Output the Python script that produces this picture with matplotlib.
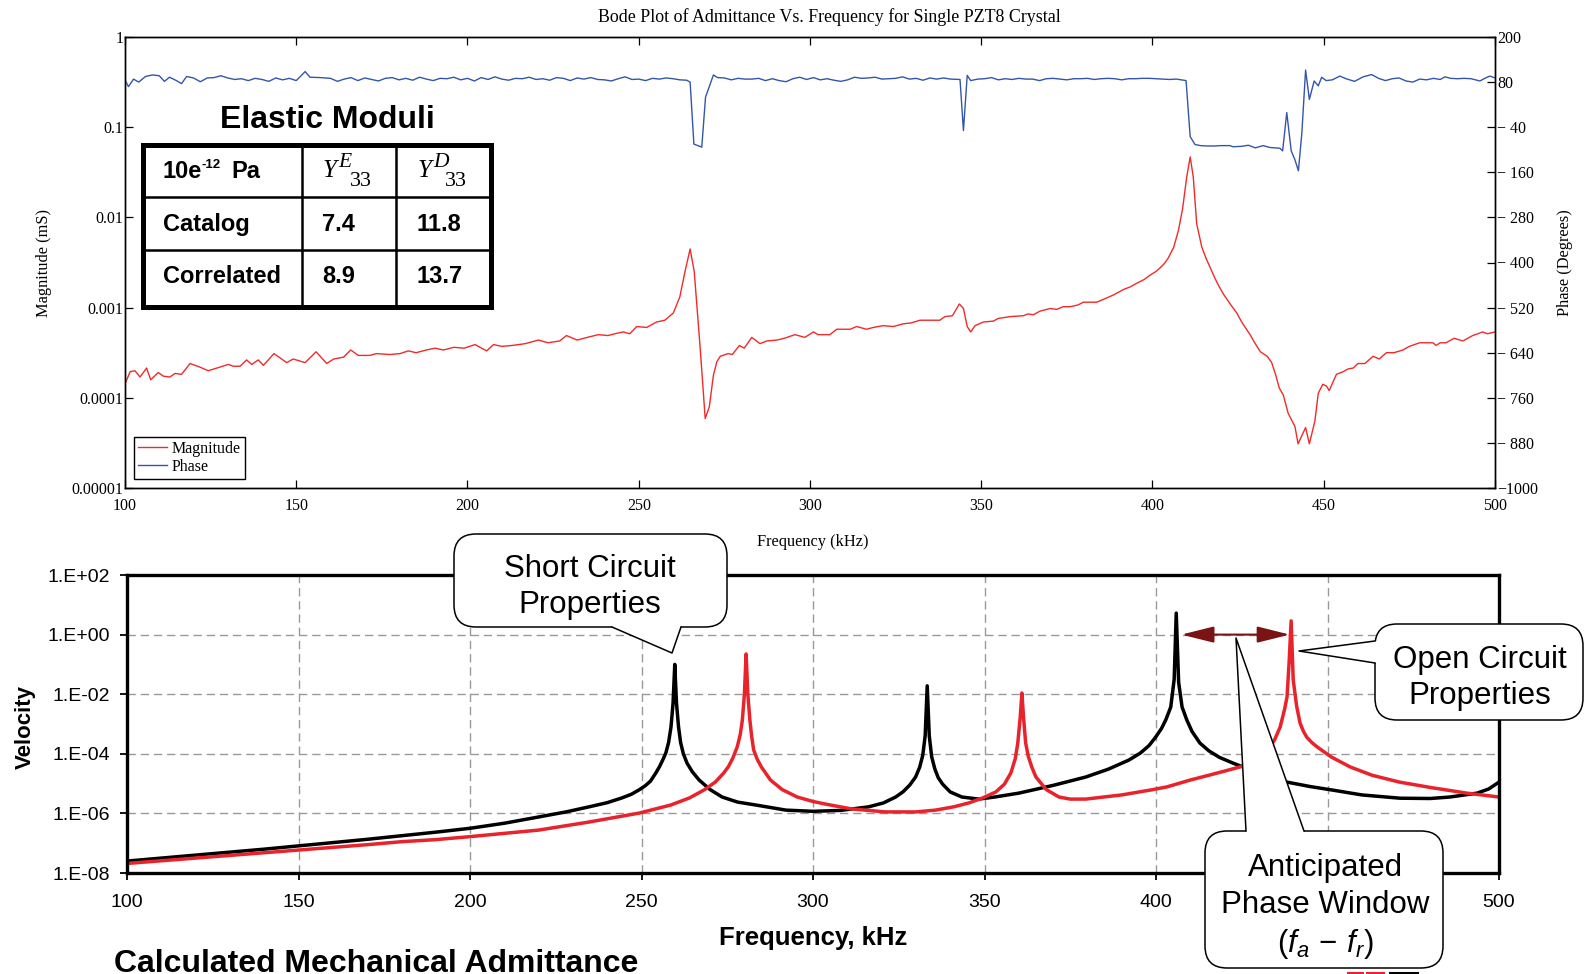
import matplotlib.pyplot as plt
import numpy as np
from matplotlib.patches import FancyBboxPatch, Polygon, Rectangle, FancyArrowPatch
from matplotlib.lines import Line2D
from matplotlib.ticker import NullLocator
from matplotlib.transforms import Affine2D

W, H = 1585, 974
SERIF = "Liberation Serif"
SANS = "Liberation Sans"
RED = "#f22a2a"
BLUE = "#3355aa"
BRED = "#e8232b"

plt.rcParams["font.family"] = [SERIF, "DejaVu Serif"]
plt.rcParams["mathtext.fontset"] = "custom"
plt.rcParams["mathtext.rm"] = SANS
plt.rcParams["mathtext.it"] = SANS + ":italic"

# ---- top panel: measured admittance (kHz, log10 of magnitude in mS) ----
mag_freq = [100.3, 101.5, 102.9, 104.4, 106.3, 107.5, 109.7, 111.2, 113.1, 114.6,
            116.5, 119, 121.9, 124.3, 127.7, 130.2, 131.6, 133.6, 135.5, 137,
            138.9, 140.4, 143.5, 147.2, 149.1, 152.6, 155.8, 158.9, 160.9, 163.8,
            165.9, 168.1, 171.5, 173.4, 177.3, 180.3, 182.7, 185, 188, 190.5,
            193, 196, 199, 202.2, 205.6, 207.6, 210, 213, 216.8, 220.7,
            223.5, 226.9, 228.9, 232, 235, 238.2, 241, 243, 245.5, 247.4,
            249.4, 252.3, 255.2, 257.6, 260.1, 262, 263.5, 265, 266.2, 267.9,
            269.4, 270.6, 271.8, 272.8, 273.8, 276.1, 277.3, 279.4, 280.8, 283,
            285.4, 287.4, 290.3, 292.5, 295.6, 298.5, 301, 302.4, 305.8, 307.8,
            311.7, 313.6, 316.5, 318.5, 321.4, 324.3, 327.2, 329.5, 332.1, 336,
            337.9, 339.4, 341.6, 343.6, 344.8, 345.9, 346.9, 348.2, 350.6, 353.5,
            355, 358.4, 362.3, 363.7, 365.2, 367.1, 370.1, 372, 373.9, 376,
            378.3, 379.8, 381.5, 383.7, 386.2, 388.6, 391.5, 393.5, 395.4, 397.5,
            399.3, 401, 402.2, 403.5, 404.6, 406.2, 407.6, 408.8, 410, 411,
            411.9, 412.9, 414.4, 415.6, 417, 418.3, 419.5, 420.7, 422.5, 424.6,
            426.2, 428.5, 430, 431.5, 433.5, 434.8, 436, 437, 438.2, 439.6,
            441.6, 442.5, 444.7, 445.8, 447.4, 448.4, 449.7, 450.8, 451.6, 453.7,
            455.7, 457.1, 458.6, 460, 462, 464.4, 466.2, 468.3, 470.5, 473.1,
            475, 478, 481.9, 482.8, 484, 485.7, 488.1, 490.6, 493.5, 496.4,
            497.8, 500]
mag_exp = [-3.82, -3.71, -3.70, -3.77, -3.67, -3.80, -3.72, -3.76, -3.77, -3.73,
           -3.74, -3.62, -3.66, -3.70, -3.66, -3.63, -3.65, -3.65, -3.58, -3.63,
           -3.58, -3.64, -3.51, -3.61, -3.57, -3.61, -3.49, -3.62, -3.57, -3.55,
           -3.47, -3.53, -3.53, -3.51, -3.52, -3.51, -3.48, -3.50, -3.47, -3.45,
           -3.47, -3.44, -3.45, -3.41, -3.48, -3.41, -3.43, -3.42, -3.40, -3.36,
           -3.39, -3.37, -3.31, -3.36, -3.33, -3.30, -3.31, -3.29, -3.27, -3.29,
           -3.21, -3.22, -3.16, -3.14, -3.06, -2.88, -2.60, -2.35, -2.60, -3.43,
           -4.23, -4.10, -3.75, -3.60, -3.54, -3.51, -3.52, -3.42, -3.45, -3.33,
           -3.40, -3.37, -3.36, -3.34, -3.30, -3.33, -3.27, -3.30, -3.30, -3.24,
           -3.24, -3.21, -3.24, -3.22, -3.20, -3.21, -3.18, -3.17, -3.14, -3.14,
           -3.14, -3.10, -3.09, -2.96, -3.01, -3.21, -3.27, -3.20, -3.16, -3.15,
           -3.12, -3.10, -3.09, -3.07, -3.08, -3.04, -3.01, -3.02, -2.99, -2.99,
           -2.97, -2.94, -2.94, -2.94, -2.90, -2.86, -2.80, -2.77, -2.73, -2.69,
           -2.64, -2.60, -2.56, -2.51, -2.45, -2.33, -2.14, -1.90, -1.55, -1.33,
           -1.55, -2.07, -2.33, -2.45, -2.57, -2.68, -2.77, -2.85, -2.95, -3.06,
           -3.17, -3.30, -3.40, -3.49, -3.54, -3.61, -3.75, -3.89, -3.97, -4.17,
           -4.32, -4.51, -4.33, -4.51, -4.26, -3.95, -3.85, -3.87, -3.92, -3.74,
           -3.71, -3.68, -3.67, -3.62, -3.62, -3.54, -3.57, -3.50, -3.50, -3.47,
           -3.43, -3.39, -3.39, -3.42, -3.39, -3.39, -3.34, -3.37, -3.31, -3.27,
           -3.29, -3.27]

phase_freq = [100, 101, 102.5, 104, 106, 108, 110, 111.5, 113, 115,
              116.5, 118, 120, 122, 124, 126, 128, 130, 132, 134,
              136, 138, 140, 142, 144, 146, 148, 150, 152.6, 154,
              157, 160, 162, 164, 166, 168, 170, 172, 174, 176,
              178, 180, 182, 184, 186, 188, 190, 192, 194, 196,
              198, 200, 202, 204, 206, 208, 210, 212, 214, 216,
              218, 220, 222, 224, 226, 228, 230, 232, 234, 236,
              238, 240, 242, 244, 246, 248, 250, 252, 254, 256,
              258, 260, 262, 264, 265, 266.1, 268.4, 269.5, 271.8, 273,
              275, 277, 279, 281, 283, 285, 287, 289, 291, 293,
              295, 297, 299, 301, 303, 305, 307, 309, 311, 313,
              315, 317, 319, 321, 323, 325, 327, 329, 331, 333,
              335, 337, 339, 341, 343.8, 344.8, 345.9, 346.9, 349, 351,
              353, 355, 357, 359, 361, 363, 365, 367, 369, 371,
              373, 375, 377, 379, 381, 383, 385, 387, 389, 391,
              393, 395, 397, 399, 401, 403, 405, 407, 409.8, 411,
              412.4, 414, 416, 418, 420, 422.6, 423.5, 425.9, 428, 430,
              432.3, 434.3, 437.2, 438, 439.2, 440.5, 441.6, 442.6, 443.6, 444.7,
              445.8, 447.2, 448.4, 449.4, 450.7, 452.5, 454.7, 456.5, 459, 461.5,
              464, 466, 468, 470, 472, 474, 476, 478, 480, 482,
              484, 485.4, 487, 489, 491, 493, 495.6, 497, 498.5, 500]
phase_deg = [86, 68, 88, 80, 95, 99, 97, 82, 93, 84,
             76, 95, 91, 81, 91, 92, 97, 91, 87, 89,
             84, 90, 87, 82, 91, 86, 90, 84, 108, 93,
             92, 90, 82, 88, 92, 84, 91, 87, 83, 90,
             92, 86, 90, 85, 93, 88, 84, 90, 89, 93,
             86, 90, 83, 92, 87, 94, 88, 85, 90, 89,
             93, 87, 89, 85, 92, 90, 84, 91, 88, 92,
             87, 86, 83, 89, 94, 87, 88, 84, 90, 88,
             91, 89, 86, 85, 80, -85, -93, 40, 99, 92,
             91, 86, 90, 88, 88, 90, 84, 89, 84, 81,
             89, 93, 87, 92, 86, 89, 85, 82, 86, 93,
             90, 91, 93, 88, 89, 90, 94, 88, 90, 85,
             91, 88, 91, 88, 87, -49, 98, 84, 88, 89,
             92, 86, 89, 87, 90, 88, 88, 84, 89, 90,
             88, 86, 89, 89, 90, 87, 89, 90, 89, 86,
             89, 89, 90, 90, 89, 88, 87, 88, 84, -65,
             -86, -89, -90, -90, -89, -89, -92, -91, -88, -95,
             -89, -94, -96, -103, -1, -103, -127, -156, -56, 112,
             34, 83, 70, 93, 84, 86, 96, 89, 82, 94,
             100, 90, 84, 89, 91, 83, 80, 88, 86, 90,
             87, 94, 90, 89, 90, 89, 83, 90, 96, 91]

mag_ticks = [1e-5, 1e-4, 1e-3, 1e-2, 1e-1, 1]
mag_labels = ["0.00001", "0.0001", "0.001", "0.01", "0.1", "1"]
phase_ticks = [200, 80, -40, -160, -280, -400, -520, -640, -760, -880, -1000]
phase_labels = ["200", "80", "\u2212 40", "\u2212 160", "\u2212 280", "\u2212 400",
                "\u2212 520", "\u2212 640", "\u2212 760", "\u2212 880", "\u22121000"]
freq_ticks = [100, 150, 200, 250, 300, 350, 400, 450, 500]
# bottom panel: the 450 label sits under the "Anticipated Phase Window" callout
freq_labels_bottom = ["100", "150", "200", "250", "300", "350", "400", "", "500"]

# ---- elastic moduli table ----
table_rows = ["Catalog", "Correlated"]
table_YE = ["7.4", "8.9"]
table_YD = ["11.8", "13.7"]

# ---- bottom panel: calculated mechanical admittance (kHz, log10 velocity) ----
short_curve = [
    (100, -7.60), (110, -7.50), (120, -7.40), (130, -7.30), (140, -7.20), (150, -7.09),
    (160, -6.98), (170, -6.87), (180, -6.75), (190, -6.63), (200, -6.50), (210, -6.33),
    (220, -6.12), (228, -5.95), (234.7, -5.78), (240, -5.64), (244.3, -5.48), (247, -5.36),
    (249.3, -5.21), (251, -5.08), (252.6, -4.92), (254.2, -4.64), (255.3, -4.42),
    (256.3, -4.18), (257.1, -3.97), (257.9, -3.62), (258.6, -3.10), (259.2, -2.30),
    (259.7, -1.00), (260.2, -2.30), (260.8, -3.10), (261.4, -3.62), (262.2, -4.00),
    (263.3, -4.32), (264.8, -4.60), (266.8, -4.88), (270, -5.20), (273.5, -5.45),
    (278, -5.62), (283.4, -5.72), (292.1, -5.89), (300, -5.93), (308, -5.90),
    (316.2, -5.78), (320.5, -5.65), (324.1, -5.45), (326.3, -5.27), (328.2, -5.05),
    (329.9, -4.78), (331.1, -4.45), (332.0, -4.05), (332.7, -3.40), (333.3, -1.72),
    (333.9, -3.40), (334.6, -4.10), (335.5, -4.50), (336.5, -4.80), (337.8, -5.02),
    (340, -5.28), (343.4, -5.45), (348.3, -5.52), (353, -5.45), (360, -5.32),
    (370, -5.06), (379.5, -4.78), (386, -4.52), (392.1, -4.21), (395.5, -3.97),
    (398, -3.72), (399.9, -3.44), (401.6, -3.15), (402.9, -2.85), (404.3, -2.43),
    (405.3, -1.50), (405.9, 0.72), (406.6, -1.60), (407.6, -2.43), (409, -2.87),
    (410.5, -3.25), (412.8, -3.64), (415.4, -3.90), (418.5, -4.12), (422.4, -4.31),
    (430, -4.65), (438.2, -4.95), (445, -5.10), (451.6, -5.22), (460, -5.38),
    (471.1, -5.49), (480, -5.50), (485.7, -5.45), (490, -5.38), (493.6, -5.32),
    (497, -5.18), (500, -4.95)]
open_curve = [
    (100, -7.68), (110, -7.59), (120, -7.50), (130, -7.41), (140, -7.32), (150, -7.23),
    (160, -7.14), (170, -7.05), (180, -6.95), (190, -6.88), (200, -6.78), (210, -6.67),
    (220, -6.56), (234.7, -6.29), (249.3, -5.99), (258.5, -5.72), (264, -5.48),
    (268.3, -5.21), (271.5, -4.95), (274, -4.64), (275.4, -4.42), (276.6, -4.15),
    (277.9, -3.77), (278.8, -3.35), (279.4, -2.87), (280.0, -2.00), (280.5, -0.65),
    (281.0, -2.00), (281.6, -2.87), (282.1, -3.40), (282.7, -3.87), (283.8, -4.20),
    (285, -4.45), (287.6, -4.88), (291, -5.20), (295.4, -5.45), (300, -5.60),
    (304.2, -5.70), (311.3, -5.85), (321.1, -5.95), (330, -5.95), (335.7, -5.89),
    (341, -5.78), (345.4, -5.65), (349.5, -5.48), (353.3, -5.28), (355.8, -5.02),
    (357.7, -4.64), (359, -4.15), (359.7, -3.64), (360.4, -2.80), (360.9, -1.96),
    (361.4, -2.80), (362, -3.64), (362.8, -4.10), (363.8, -4.45), (365, -4.78),
    (368, -5.20), (371.7, -5.45), (375, -5.52), (379.5, -5.52), (390, -5.38),
    (398.7, -5.21), (403.2, -5.11), (410, -4.88), (415.4, -4.72), (420, -4.58),
    (424.5, -4.44), (428.5, -4.22), (431, -4.02), (432.4, -3.87), (434.5, -3.55),
    (436.2, -3.10), (437.5, -2.50), (438.2, -2.09), (438.8, -0.95), (439.4, 0.46),
    (440.0, -1.52), (441, -2.40), (442, -2.97), (443, -3.25), (444, -3.45),
    (445.5, -3.63), (447, -3.77), (451, -4.10), (456.6, -4.44), (463, -4.72),
    (471, -4.95), (480, -5.13), (490.6, -5.32), (500, -5.45)]
vel_ticks = [1e-8, 1e-6, 1e-4, 1e-2, 1, 1e2]
vel_labels = ["1.E-08", "1.E-06", "1.E-04", "1.E-02", "1.E+00", "1.E+02"]
f_r, f_a = 407.4, 439.0

fig = plt.figure(figsize=(W / 100, H / 100), dpi=100)
px = Affine2D().scale(1 / W, -1 / H).translate(0, 1) + fig.transFigure


def rect(x0, y0, x1, y1):
    return [x0 / W, 1 - y1 / H, (x1 - x0) / W, (y1 - y0) / H]


# ================= top panel =================
ax = fig.add_axes(rect(125, 37, 1495, 488))
ax2 = ax.twinx()
ax.plot(mag_freq, 10 ** np.array(mag_exp), color=RED, lw=1.0)
ax.set_yscale("log")
ax.set_xlim(100, 500)
ax.set_ylim(1e-5, 1)
ax.set_yticks(mag_ticks)
ax.set_yticklabels(mag_labels)
ax.yaxis.set_minor_locator(NullLocator())
ax.set_xticks(freq_ticks)
ax.tick_params(axis="x", direction="in", top=True, length=6, width=0.9, pad=7, labelsize=11.5)
ax.tick_params(axis="y", direction="in", right=False, length=6, width=0.9, pad=1, labelsize=11.5)

ax2.plot(phase_freq, phase_deg, color=BLUE, lw=1.0)
ax2.set_ylim(-1000, 200)
ax2.set_yticks(phase_ticks)
ax2.set_yticklabels(phase_labels)
ax2.tick_params(axis="y", direction="in", length=6, width=0.9, pad=1.5, labelsize=11.5)
for a in (ax, ax2):
    for s in a.spines.values():
        s.set_linewidth(1.0)

leg = ax2.legend([Line2D([], [], color=RED, lw=1.0), Line2D([], [], color=BLUE, lw=1.0)],
                 ["Magnitude", "Phase"], loc="lower left",
                 bbox_to_anchor=((134 - 125) / 1370, (488 - 479) / 451),
                 borderaxespad=0, fancybox=False, edgecolor="black", framealpha=1,
                 fontsize=11.5, handlelength=1.8, handletextpad=0.3,
                 labelspacing=0.15, borderpad=0.25)
leg.get_frame().set_linewidth(1.0)

fig.text(829, 17, "Bode Plot of Admittance Vs. Frequency for Single PZT8 Crystal",
         transform=px, ha="center", va="center", fontsize=12.9)
fig.text(44.5, 263, "Magnitude (mS)", transform=px, rotation=90,
         ha="center", va="center", fontsize=11.8)
fig.text(1565, 263, "Phase (Degrees)", transform=px, rotation=90,
         ha="center", va="center", fontsize=11.8)
fig.text(813, 542, "Frequency (kHz)", transform=px, ha="center", va="center", fontsize=11.8)

# elastic moduli table
bold_sans = dict(family=SANS, weight="bold", transform=px, ha="left", va="baseline", zorder=6)
fig.text(327, 128, "Elastic Moduli", fontsize=23, **{**bold_sans, "ha": "center"})
fig.add_artist(Rectangle((143, 145), 348, 162, transform=px, facecolor="white",
                         edgecolor="black", lw=3.6, zorder=5))
for xc in (302, 396):
    fig.add_artist(Line2D([xc, xc], [145, 307], transform=px, color="black", lw=1.8, zorder=5))
for yc in (197, 250):
    fig.add_artist(Line2D([143, 491], [yc, yc], transform=px, color="black", lw=1.8, zorder=5))
fig.text(163, 178, "10e", fontsize=17, **bold_sans)
fig.text(202, 168, "-12", fontsize=9.5, **bold_sans)
fig.text(231, 178, "Pa", fontsize=17, **bold_sans)
for x0, sup in ((323, "E"), (418, "D")):
    fig.text(x0, 177, "Y", transform=px, family=SERIF, style="italic", fontsize=18,
             ha="left", va="baseline", zorder=6)
    fig.text(x0 + 15, 167, sup, transform=px, family=SERIF, style="italic", fontsize=15.5,
             ha="left", va="baseline", zorder=6)
    fig.text(x0 + 27, 186, "33", transform=px, family=SERIF, fontsize=16,
             ha="left", va="baseline", zorder=6)
for i, (name, ye, yd) in enumerate(zip(table_rows, table_YE, table_YD)):
    yb = 231 + 52 * i
    fig.text(163, yb, name, fontsize=17, **bold_sans)
    fig.text(322, yb, ye, fontsize=17, **bold_sans)
    fig.text(417, yb, yd, fontsize=17, **bold_sans)

# ================= bottom panel =================
short_f, short_e = zip(*short_curve)
open_f, open_e = zip(*open_curve)
bx = fig.add_axes(rect(127, 575, 1499, 873))
bx.plot(short_f, 10 ** np.array(short_e), color="black", lw=2.5)
bx.plot(open_f, 10 ** np.array(open_e), color=BRED, lw=2.5)
bx.set_yscale("log")
bx.set_xlim(100, 500)
bx.set_ylim(1e-8, 1e2)
bx.set_yticks(vel_ticks)
bx.set_yticklabels(vel_labels)
bx.yaxis.set_minor_locator(NullLocator())
bx.set_xticks(freq_ticks)
bx.set_xticklabels(freq_labels_bottom)
bx.grid(True, color="#999999", lw=1.0, linestyle=(0, (6, 3.5)))
bx.tick_params(direction="out", length=5, width=1.3, labelsize=14, labelfontfamily=SANS)
bx.tick_params(axis="x", pad=10)
bx.tick_params(axis="y", pad=7)
for s in bx.spines.values():
    s.set_linewidth(2.4)

bx.add_patch(FancyArrowPatch((f_r, 1.0), (f_a, 1.0),
                             arrowstyle="<|-|>,head_length=1.0,head_width=0.25",
                             mutation_scale=20, color="#7a1414", lw=1.5,
                             shrinkA=0, shrinkB=0, zorder=4))

fig.text(25, 727, "Velocity", transform=px, rotation=90, ha="center", va="center",
         family=SANS, weight="bold", fontsize=16)
fig.text(813, 938, "Frequency, kHz", transform=px, ha="center", va="center",
         family=SANS, weight="bold", fontsize=18.5)
fig.text(114, 972, "Calculated Mechanical Admittance", transform=px, ha="left",
         va="baseline", family=SANS, weight="bold", fontsize=23)


def callout(x0, y0, x1, y1, base1, tip, base2, inward):
    fig.add_artist(FancyBboxPatch((x0, y0), x1 - x0, y1 - y0,
                                  boxstyle="round,pad=0,rounding_size=22", transform=px,
                                  facecolor="white", edgecolor="black", lw=1.1, zorder=5))
    dx, dy = inward
    fig.add_artist(Polygon([(base1[0] + dx, base1[1] + dy), base1, tip, base2,
                            (base2[0] + dx, base2[1] + dy)], closed=True, transform=px,
                           facecolor="white", edgecolor="none", zorder=6))
    fig.add_artist(Line2D([base1[0], tip[0], base2[0]], [base1[1], tip[1], base2[1]],
                          transform=px, color="black", lw=1.1, zorder=7))


callout(454, 534, 727, 627, (612, 627), (672, 653), (681, 627), (0, -4))
fig.text(590, 587, "Short Circuit\nProperties", transform=px, ha="center", va="center",
         family=SANS, fontsize=22.5, linespacing=1.28, zorder=8)

callout(1375, 624, 1583, 720, (1375, 641), (1299, 651), (1375, 663), (4, 0))
fig.text(1480, 678, "Open Circuit\nProperties", transform=px, ha="center", va="center",
         family=SANS, fontsize=22.5, linespacing=1.28, zorder=8)

callout(1205, 831, 1443, 968, (1246, 831), (1236, 638), (1304, 831), (0, 4))
fig.text(1325, 907, "Anticipated\nPhase Window\n" + r"$(f_a\,-\,f_r)$", transform=px,
         ha="center", va="center", family=SANS, fontsize=22.5, linespacing=1.3, zorder=8)

# cut-off legend key at the bottom edge
for xs, col in (((1348, 1362), BRED), ((1367, 1383), BRED), ((1390, 1417), "black")):
    fig.add_artist(Line2D(list(xs), [972.5, 972.5], transform=px, color=col, lw=2.2, zorder=5))

fig.savefig("out.png", dpi=100)
